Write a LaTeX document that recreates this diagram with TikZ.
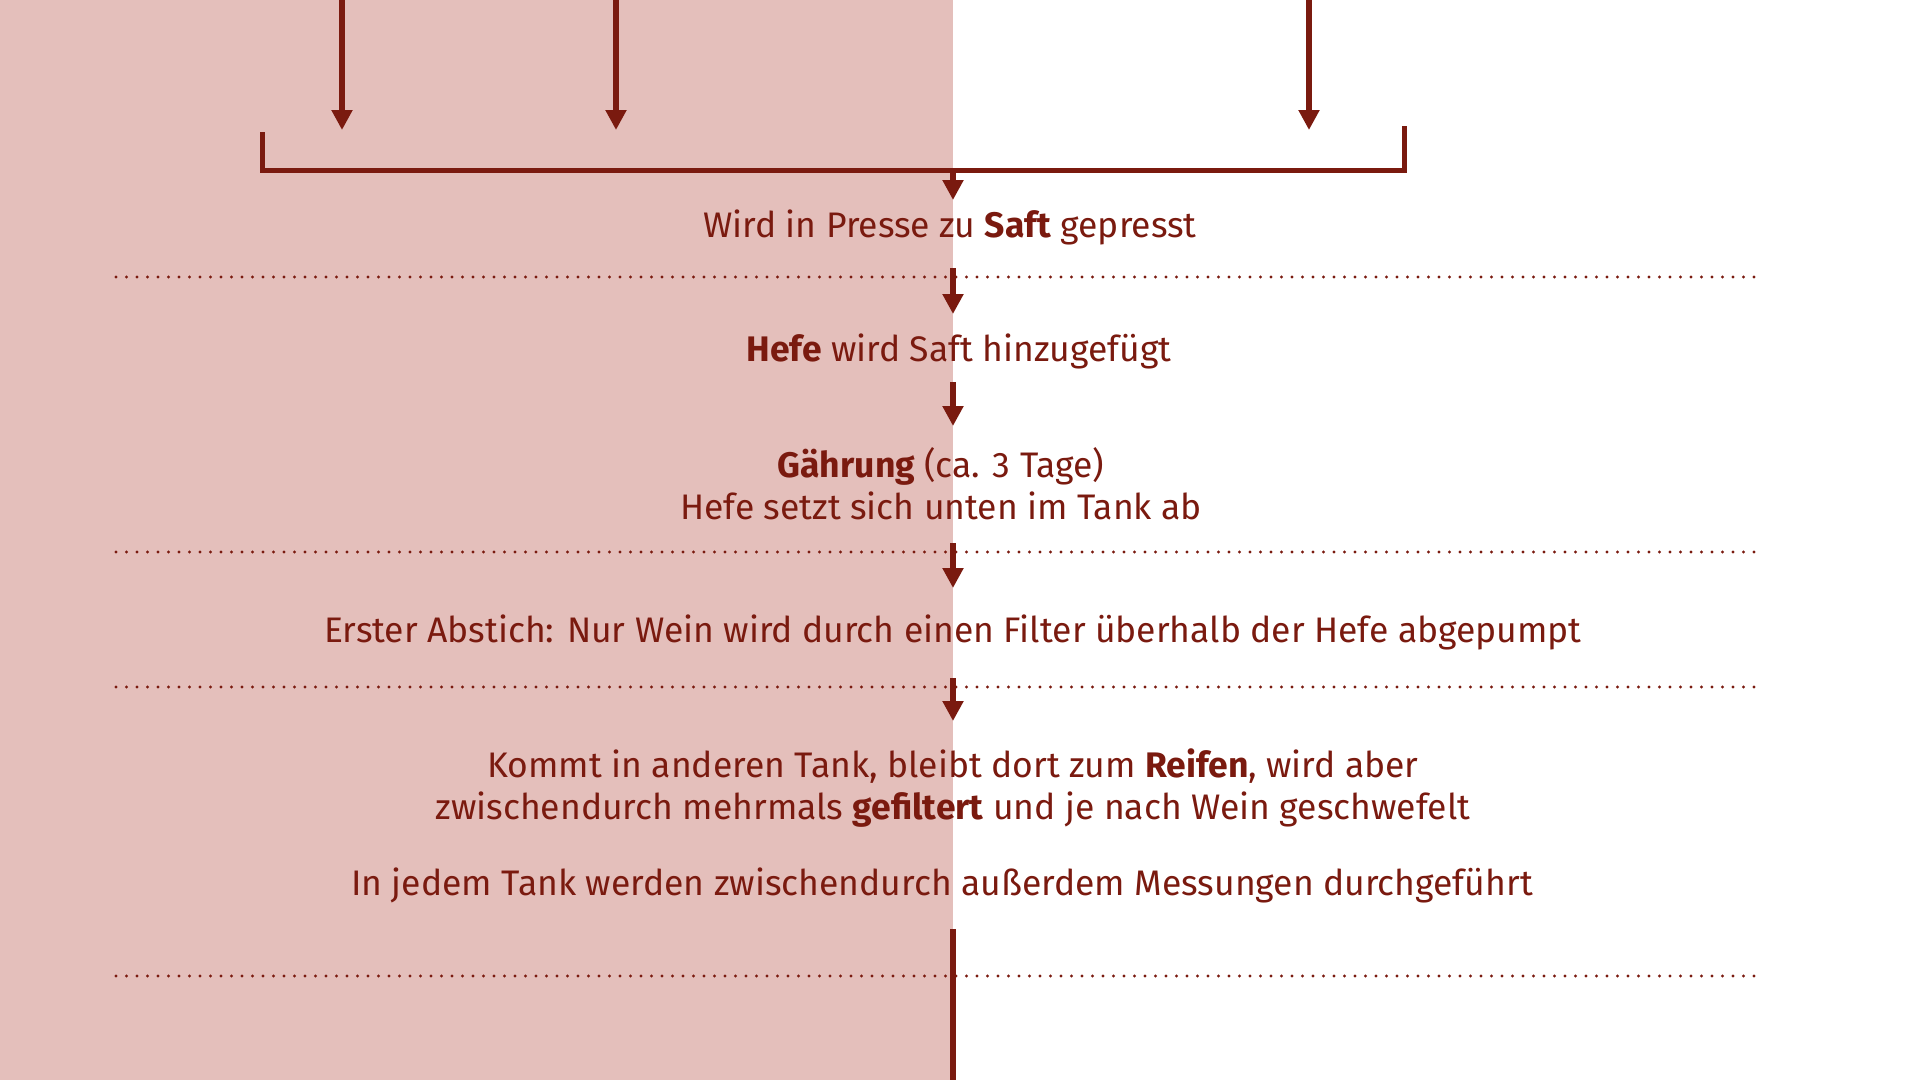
\documentclass[tikz,border=0pt]{standalone}
\usepackage{fontspec}
\setmainfont{Fira Sans}
\usepackage{tikz}
\usetikzlibrary{arrows.meta}
\definecolor{wine}{RGB}{122,26,15}
\definecolor{rose}{RGB}{228,191,187}
\tikzset{
	flow/.style={wine, line width=5.5pt, -{Triangle[width=20pt,length=20pt]}},
	bracket/.style={wine, line width=5pt},
	dotline/.style={wine, line width=3.3pt, line cap=round, dash pattern=on 0pt off 10.5pt},
	steptext/.style={wine, anchor=base, align=center, inner sep=0pt, font=\fontsize{35.5pt}{42pt}\selectfont}
}

\begin{document}
\begin{tikzpicture}[x=1pt,y=-1pt]
	\useasboundingbox (0,0) rectangle (1920,1080);
	% background half
	\fill[rose] (0,0) rectangle (953,1080);
	% dotted separators
	\foreach \y in {277,552,687,976}
	\draw[dotline] (116,\y) -- (1760,\y);
	
	% incoming arrows from the top
	\foreach[count=\i] \x in {342,616,1309} {
		\coordinate (in\i) at (\x,0);
		\coordinate (inend\i) at (\x,130);
		\draw[flow] (in\i) -- (inend\i);
	}
	% collecting bracket
	\coordinate (bl) at (262,132);
	\coordinate (br) at (1404,126);
	\draw[bracket] (bl) |- (br |- 0,170) -- (br);
	
	% the steps (base = baseline of the last line)
	\node[steptext] (saft) at (950,237) {Wird in Presse zu \textbf{Saft} gepresst};
	\node[steptext] (hefe) at (959,361) {\textbf{Hefe} wird Saft hinzugefügt};
	\node[steptext] (gaehrung) at (941,519) {\textbf{Gährung} (ca. 3 Tage)\\Hefe setzt sich unten im Tank ab};
	\node[steptext] (abstich) at (953,642) {Erster Abstich: Nur Wein wird durch einen Filter überhalb der Hefe abgepumpt};
	\node[steptext] (reifen) at (953,819) {Kommt in anderen Tank, bleibt dort zum \textbf{Reifen}, wird aber\\zwischendurch mehrmals \textbf{gefiltert} und je nach Wein geschwefelt};
	\node[steptext] (messung) at (942,895) {In jedem Tank werden zwischendurch außerdem Messungen durchgeführt};
	
	% arrows down the middle
	\foreach[count=\i] \a/\b in {170/200,268/314,382/426,543/588,678/721} {
		\coordinate (from\i) at (953,\a);
		\coordinate (to\i) at (953,\b);
		\draw[flow] (from\i) -- (to\i);
	}
	\coordinate (out) at (953,929);
	\coordinate (outend) at (953,1080);
	\draw[wine, line width=5.5pt] (out) -- (outend);
\end{tikzpicture}
\end{document}
